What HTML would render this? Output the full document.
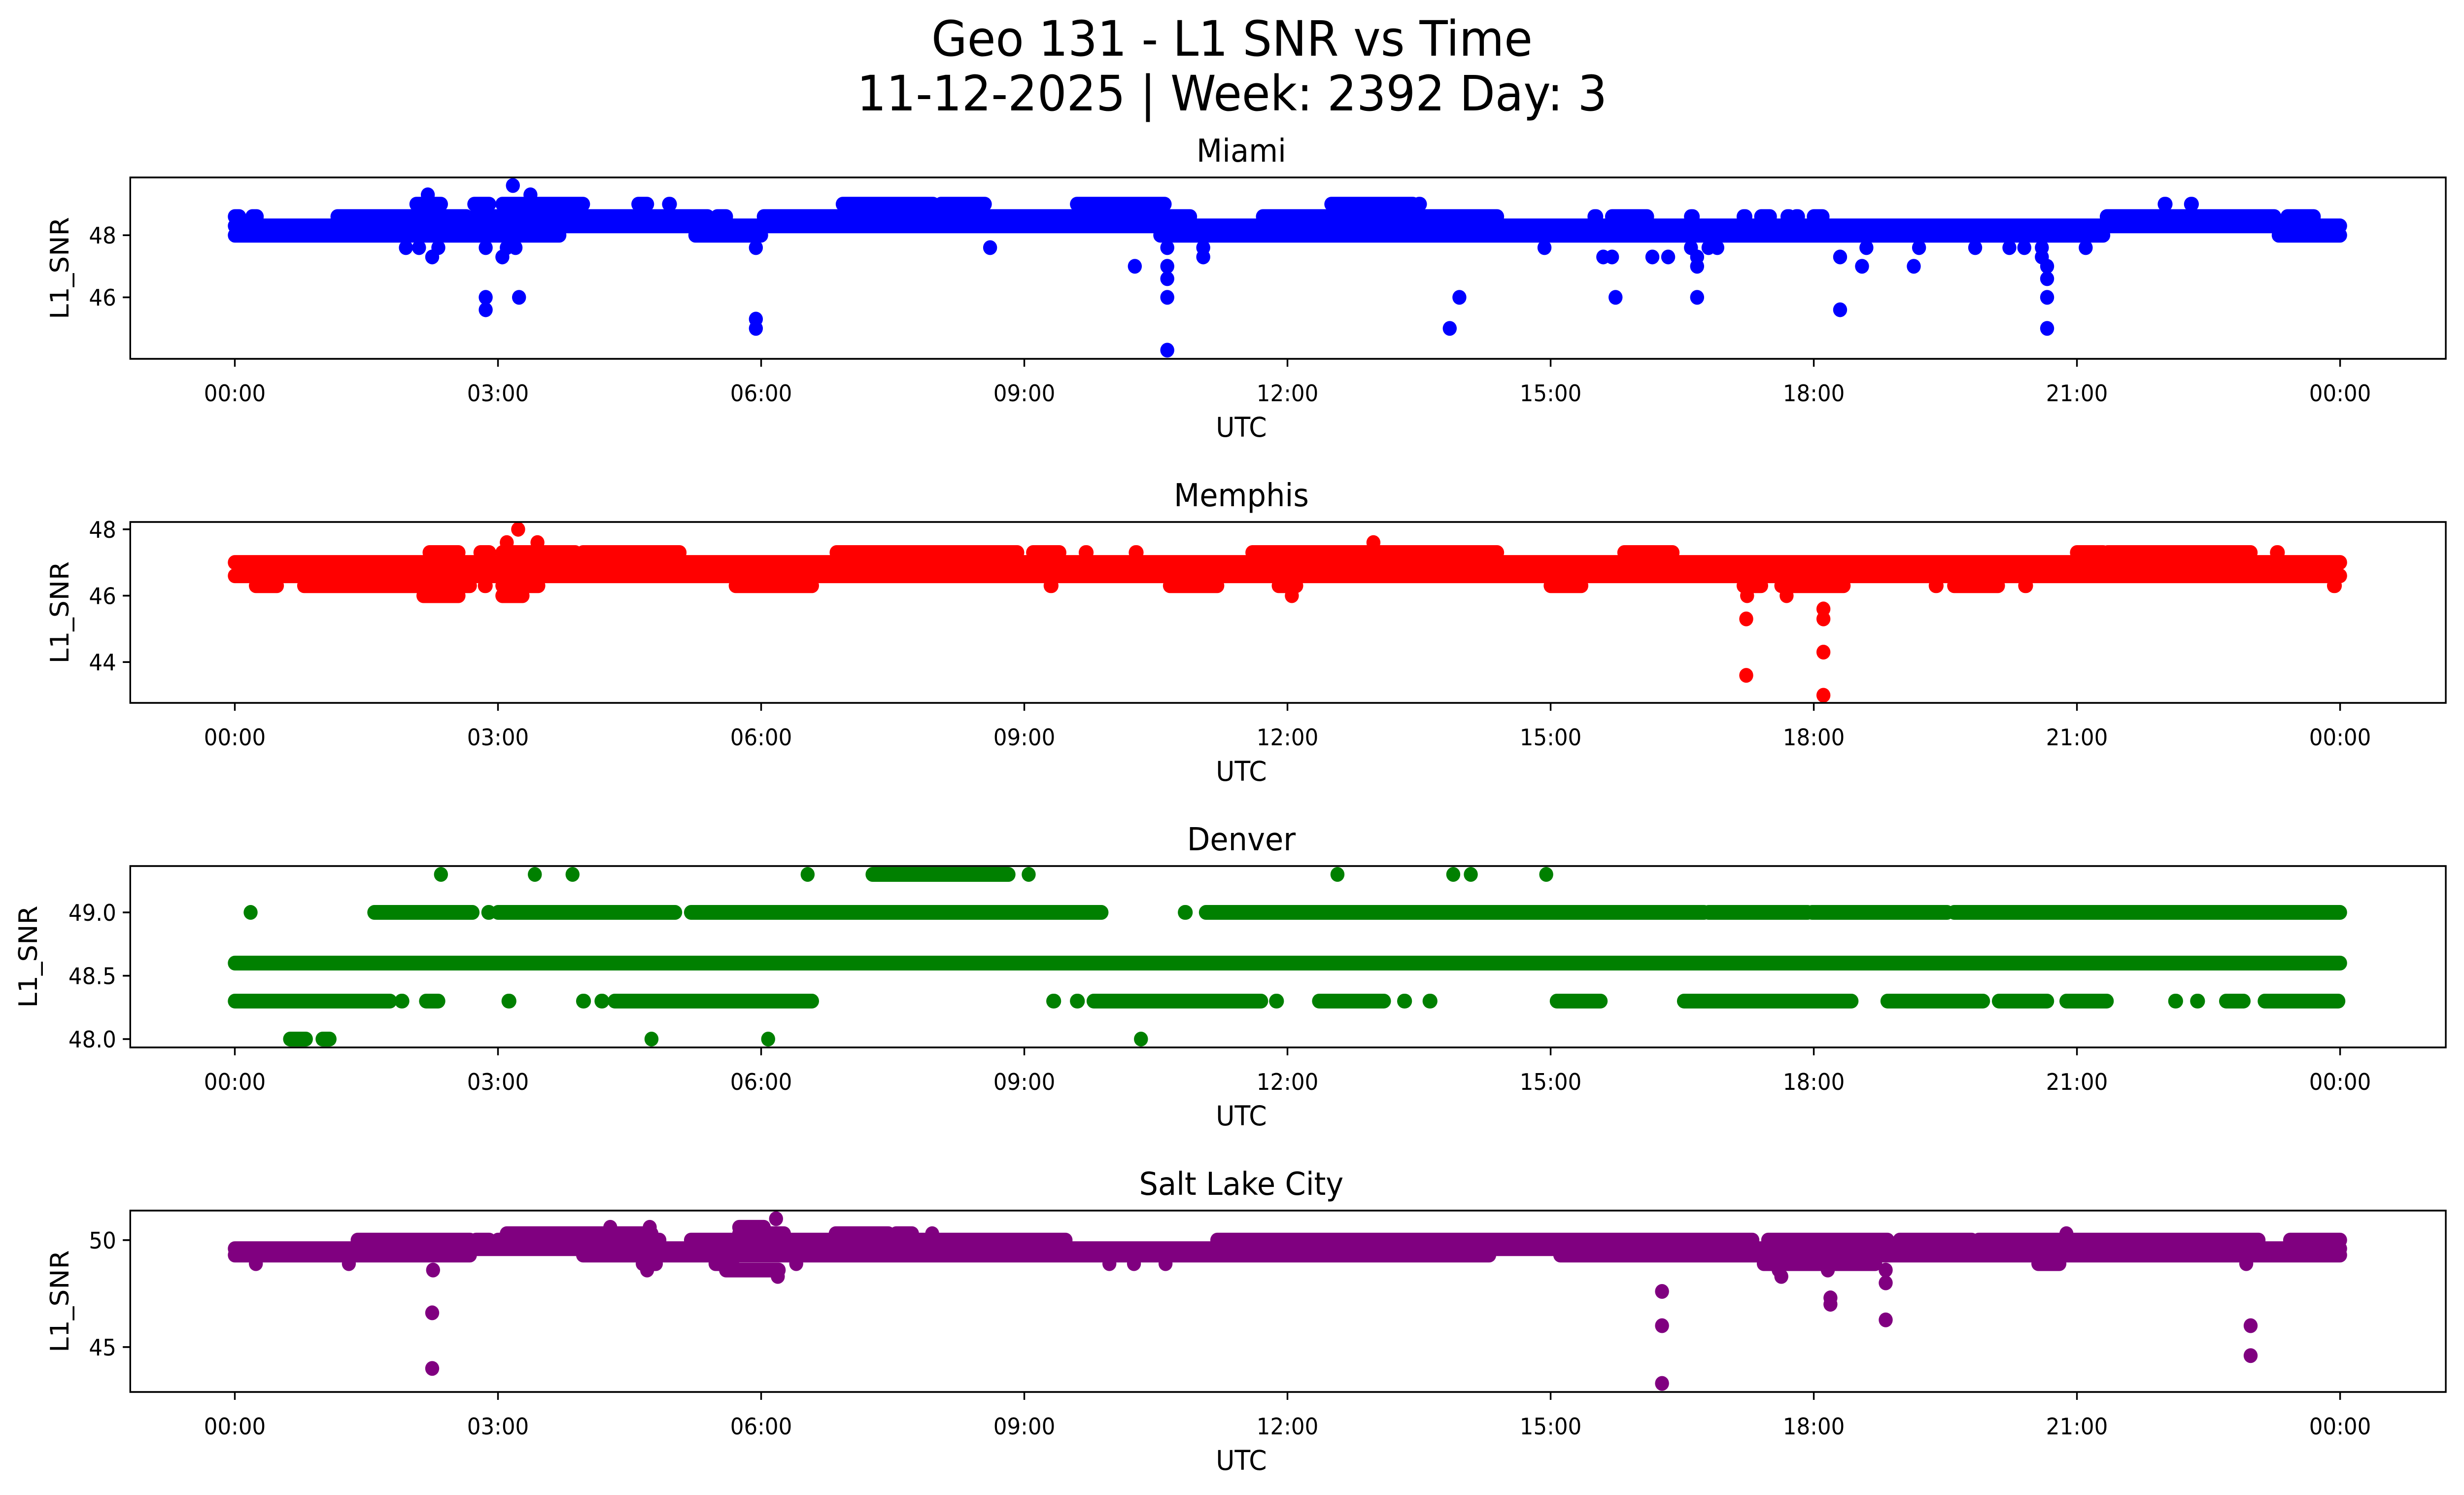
<!DOCTYPE html>
<html><head><meta charset="utf-8"><style>
html,body{margin:0;padding:0;background:#fff;overflow:hidden;width:100%;height:100%;}
svg{display:block;font-family:"DejaVu Sans","Liberation Sans",sans-serif;width:100vw;height:100vh;}
</style></head><body>
<svg id="fig" viewBox="0 0 5278 3033" preserveAspectRatio="none" xmlns="http://www.w3.org/2000/svg">
<rect width="5278" height="3033" fill="#fff"/>
<text x="2639" y="113" font-size="99" text-anchor="middle">Geo 131 - L1 SNR vs Time</text>
<text x="2639" y="224" font-size="99" text-anchor="middle">11-12-2025 | Week: 2392 Day: 3</text>
</svg>
<script>
// ---- shared axis ----
const xTickHours = [0,3,6,9,12,15,18,21,24];
const xTickLabels = ["00:00","03:00","06:00","09:00","12:00","15:00","18:00","21:00","00:00"];

// ---- Miami ----
const miamiYTicks = [46,48];
const miamiRuns = [
 [0,3.7,48.0],[5.25,6.0,48.0],[10.55,21.3,48.0],[23.3,24,48.0],
 [0,24,48.3],
 [0,0.05,48.6],[0.2,0.25,48.6],[1.17,2.64,48.6],[2.73,5.39,48.6],[5.5,5.6,48.6],[6.03,10.89,48.6],[11.72,14.39,48.6],
 [15.5,15.52,48.6],[15.7,16.1,48.6],[16.6,16.62,48.6],[17.2,17.22,48.6],[17.4,17.5,48.6],[17.7,17.72,48.6],[17.8,17.82,48.6],[18.0,18.1,48.6],[21.34,23.25,48.6],[23.4,23.7,48.6],
 [2.07,2.35,49.0],[2.73,2.9,49.0],[3.05,3.97,49.0],[4.6,4.7,49.0],[4.95,4.96,49.0],[6.93,7.96,49.0],[8.05,8.55,49.0],[9.6,10.6,49.0],[12.5,13.43,49.0],[13.5,13.51,49.0],[22.0,22.01,49.0],[22.3,22.31,49.0]
];
const miamiTimes = [2.2,3.37,3.17,1.95,2.1,2.32,2.86,3.1,3.2,5.94,8.61,10.63,11.04,2.25,3.05,11.04,10.26,10.63,10.63,2.86,3.24,10.63,2.86,5.94,5.94,10.63,
 14.93,16.6,16.8,16.9,18.6,19.2,19.84,20.23,20.4,20.6,21.1,15.6,15.7,16.16,16.34,16.67,18.3,20.6,16.67,18.55,19.14,20.66,20.66,13.96,15.74,16.67,20.66,18.3,13.85,20.66];
const miamiValues = [49.3,49.3,49.6,47.6,47.6,47.6,47.6,47.6,47.6,47.6,47.6,47.6,47.6,47.3,47.3,47.3,47.0,47.0,46.6,46.0,46.0,46.0,45.6,45.3,45.0,44.3,
 47.6,47.6,47.6,47.6,47.6,47.6,47.6,47.6,47.6,47.6,47.6,47.3,47.3,47.3,47.3,47.3,47.3,47.3,47.0,47.0,47.0,47.0,46.6,46.0,46.0,46.0,46.0,45.6,45.0,45.0];

// ---- Memphis ----
const memphisYTicks = [44,46,48];
const memphisRuns = [
 [0,24,46.6],[0,24,47.0],
 [2.22,2.55,47.3],[2.8,2.9,47.3],[3.05,3.88,47.3],[3.97,5.07,47.3],[6.86,8.92,47.3],[9.1,9.4,47.3],[9.7,9.71,47.3],[10.27,10.28,47.3],[11.6,14.39,47.3],[15.84,16.39,47.3],[21.0,21.3,47.3],[21.35,22.98,47.3],[23.28,23.29,47.3],
 [0.24,0.48,46.3],[0.79,2.68,46.3],[2.85,2.86,46.3],[3.05,3.46,46.3],[5.71,6.58,46.3],[9.3,9.31,46.3],[10.66,11.2,46.3],[11.9,12.1,46.3],[15.0,15.35,46.3],[17.2,17.4,46.3],[17.63,18.34,46.3],[19.39,19.4,46.3],[19.6,20.1,46.3],[20.41,20.42,46.3],[23.93,23.94,46.3],
 [2.15,2.55,46.0],[3.05,3.28,46.0]
];
const memphisTimes = [3.1,3.23,3.45,12.98,12.05,17.24,17.69,17.23,17.23,18.11,18.11,18.11,18.11];
const memphisValues = [47.6,48.0,47.6,47.6,46.0,46.0,46.0,45.3,43.6,45.6,45.3,44.3,43.0];

// ---- Denver ----
const denverYTicks = [48.0,48.5,49.0];
const denverRuns = [
 [0,24,48.6],
 [1.59,2.71,49.0],[2.89,2.9,49.0],[3.0,5.02,49.0],[5.2,9.88,49.0],[10.83,10.84,49.0],[11.07,16.75,49.0],[16.8,17.93,49.0],[17.98,19.52,49.0],[19.6,24,49.0],
 [0,1.77,48.3],[1.9,1.91,48.3],[2.18,2.32,48.3],[3.12,3.13,48.3],[3.97,3.98,48.3],[4.18,4.19,48.3],[4.33,6.58,48.3],[9.33,9.34,48.3],[9.6,9.61,48.3],[9.79,11.7,48.3],[11.87,11.88,48.3],[12.36,13.1,48.3],[13.33,13.34,48.3],[13.62,13.63,48.3],[15.07,15.57,48.3],[16.52,18.43,48.3],[18.84,19.93,48.3],[20.11,20.66,48.3],[20.88,21.34,48.3],[22.12,22.13,48.3],[22.37,22.38,48.3],[22.7,22.9,48.3],[23.14,23.98,48.3],
 [7.27,8.82,49.3],[0.63,0.81,48.0],[1.0,1.08,48.0]
];
const denverTimes = [0.18,2.35,3.42,3.85,6.53,9.05,12.57,13.89,14.09,14.95,4.75,6.08,10.33];
const denverValues = [49.0,49.3,49.3,49.3,49.3,49.3,49.3,49.3,49.3,49.3,48.0,48.0,48.0];

// ---- Salt Lake City ----
const slcYTicks = [45,50];
const slcRuns = [
 [0,24,49.6],[0,2.68,49.3],[3.97,14.3,49.3],[15.11,24,49.3],
 [1.4,2.68,50.0],[2.75,2.9,50.0],[3.0,4.84,50.0],[5.2,9.47,50.0],[11.2,17.3,50.0],[17.48,18.84,50.0],[18.98,19.8,50.0],[19.88,23.07,50.0],[23.43,24,50.0],
 [3.1,4.75,50.3],[5.75,6.26,50.3],[6.85,7.45,50.3],[7.54,7.72,50.3],[5.75,6.03,50.6],
 [4.65,4.8,48.9],[5.48,5.67,48.9],[17.43,18.7,48.9],[20.56,20.8,48.9],[5.6,6.2,48.6]
];
const slcTimes = [7.95,20.88,4.28,4.73,6.17,0.24,1.3,6.4,22.93,9.97,10.25,10.61,4.7,2.26,17.6,18.16,18.82,6.19,
 2.25,2.25,16.27,16.27,16.27,18.19,18.19,18.82,18.82,22.98,22.98,17.63];
const slcValues = [50.3,50.3,50.6,50.6,51.0,48.9,48.9,48.9,48.9,48.9,48.9,48.9,48.6,48.6,48.6,48.6,48.6,48.3,
 46.6,44.0,47.6,46.0,43.3,47.3,47.0,48.0,46.27,46.0,44.6,48.3];

const NS = "http://www.w3.org/2000/svg";
const svg = document.getElementById('fig');
const AX_L = 279, AX_R = 5239, R = 15;
function xScale(h){ return 503 + h*187.9; }
function mk(tag, attrs, parent){
  const e = document.createElementNS(NS, tag);
  for (const k in attrs) e.setAttribute(k, attrs[k]);
  (parent||svg).appendChild(e);
  return e;
}

function panel(key, title, color, top, bottom, ymin, ymax, yTicks, tickFmt, runs, times, values, ylabelX){
  const g = mk('g', {});
  
  
  const yScale = v => bottom - (v - ymin) / (ymax - ymin) * (bottom - top);
  const clipId = 'clip-' + key;
  const cp = mk('clipPath', {id: clipId}, g);
  mk('rect', {x: AX_L, y: top, width: AX_R-AX_L, height: bottom-top}, cp);
  const marks = mk('g', {'clip-path': 'url(#' + clipId + ')'}, g);
  
  
  runs.forEach(r => {
    const l = mk('line', {x1: xScale(r[0]), x2: xScale(r[1]), y1: yScale(r[2]), y2: yScale(r[2]), stroke: color, 'stroke-width': 2*R, 'stroke-linecap': 'round'}, marks);
    
    
  });
  times.forEach((t, i) => {
    const c = mk('circle', {cx: xScale(t), cy: yScale(values[i]), r: R, fill: color}, marks);
    
    
  });
  const frame = mk('rect', {x: AX_L, y: top, width: AX_R-AX_L, height: bottom-top, fill: 'none', stroke: '#000', 'stroke-width': 3.6}, g);
  
  
  xTickHours.forEach((h, i) => {
    const x = xScale(h);
    mk('line', {x1: x, x2: x, y1: bottom, y2: bottom+16, stroke: '#000', 'stroke-width': 3.6}, g);
    const t = mk('text', {x: x, y: bottom+86, 'font-size': 46, 'text-anchor': 'middle'}, g);
    t.textContent = xTickLabels[i];
    
    
  });
  yTicks.forEach(v => {
    const y = yScale(v);
    mk('line', {x1: AX_L-16, x2: AX_L, y1: y, y2: y, stroke: '#000', 'stroke-width': 3.6}, g);
    const t = mk('text', {x: AX_L-30, y: y+17, 'font-size': 46, 'text-anchor': 'end'}, g);
    t.textContent = v.toFixed(tickFmt);
    
    
  });
  const xl = mk('text', {x: (AX_L+AX_R)/2 - 100, y: bottom+158, 'font-size': 55, 'text-anchor': 'middle'}, g);
  xl.textContent = 'UTC';
  
  
  const cy = (top+bottom)/2;
  const yl = mk('text', {x: ylabelX, y: cy, 'font-size': 55, 'text-anchor': 'middle', transform: 'rotate(-90 ' + ylabelX + ' ' + cy + ')', 'dominant-baseline': 'central'}, g);
  yl.textContent = 'L1_SNR';
  
  
  const tt = mk('text', {x: (AX_L+AX_R)/2 - 100, y: top-32, 'font-size': 64, 'text-anchor': 'middle'}, g);
  tt.textContent = title;
  
  
}

panel('miami', 'Miami', '#0000ff', 360, 728, 44.02, 49.86, miamiYTicks, 0, miamiRuns, miamiTimes, miamiValues, 128);
panel('memphis', 'Memphis', '#ff0000', 1059, 1426, 42.77, 48.22, memphisYTicks, 0, memphisRuns, memphisTimes, memphisValues, 128);
panel('denver', 'Denver', '#008000', 1757, 2125, 47.934, 49.366, denverYTicks, 1, denverRuns, denverTimes, denverValues, 60);
panel('slc', 'Salt Lake City', '#800080', 2456, 2824, 42.9, 51.38, slcYTicks, 0, slcRuns, slcTimes, slcValues, 128);
</script>
</body></html>
